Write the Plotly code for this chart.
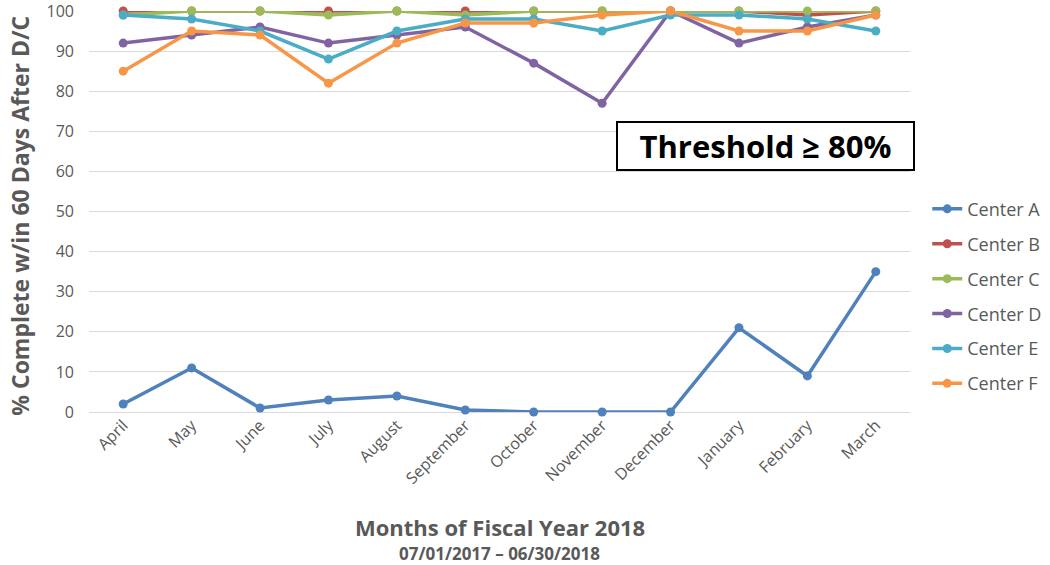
import plotly.graph_objects as go

months = ["April", "May", "June", "July", "August", "September", "October",
          "November", "December", "January", "February", "March"]

center_a = [2, 11, 1, 3, 4, 0.5, 0, 0, 0, 21, 9, 35]
center_b = [100, 100, 100, 100, 100, 100, 100, 100, 100, 100, 99, 100]
center_c = [99, 100, 100, 99, 100, 99, 100, 100, 100, 100, 100, 100]
center_d = [92, 94, 96, 92, 94, 96, 87, 77, 100, 92, 96, 99]
center_e = [99, 98, 95, 88, 95, 98, 98, 95, 99, 99, 98, 95]
center_f = [85, 95, 94, 82, 92, 97, 97, 99, 100, 95, 95, 99]

series = [
    ("Center A", center_a, "#4F81BD"),
    ("Center B", center_b, "#C0504D"),
    ("Center C", center_c, "#9BBB59"),
    ("Center D", center_d, "#8064A2"),
    ("Center E", center_e, "#4BACC6"),
    ("Center F", center_f, "#F79646"),
]

FONT = "Open Sans"
GRAY = "#595959"

fig = go.Figure()
for name, vals, color in series:
    fig.add_trace(go.Scatter(
        x=months, y=vals, name=name, mode="lines+markers",
        line=dict(color=color, width=3.5),
        marker=dict(color=color, size=9),
        legendgroup=name, cliponaxis=False,
    ))

fig.add_annotation(
    xref="paper", yref="y", x=0.824, y=66.3,
    xanchor="center", yanchor="middle",
    text="<b>Threshold ≥ 80%</b>", showarrow=False,
    font=dict(family=FONT, size=31, color="black"),
    bordercolor="black", borderwidth=2, bgcolor="white",
    width=293, height=44, align="center", valign="middle",
)

fig.add_annotation(
    xref="paper", yref="paper", x=0.5, y=-0.287, yanchor="middle",
    text="<b>Months of Fiscal Year 2018</b>", showarrow=False,
    font=dict(family=FONT, size=22, color=GRAY),
)
fig.add_annotation(
    xref="paper", yref="paper", x=0.5, y=-0.352, yanchor="middle",
    text="<b>07/01/2017 – 06/30/2018</b>", showarrow=False,
    font=dict(family=FONT, size=17, color=GRAY),
)
fig.add_annotation(
    xref="paper", yref="paper", x=-0.085, y=0.49, xanchor="center",
    yanchor="middle", textangle=-90,
    text="<b>% Complete w/in 60 Days After D/C</b>", showarrow=False,
    font=dict(family=FONT, size=23, color=GRAY),
)

fig.update_layout(
    width=1050, height=565,
    margin=dict(l=89, r=140, t=11, b=153, autoexpand=False),
    paper_bgcolor="white", plot_bgcolor="white",
    font=dict(family=FONT, color=GRAY),
    legend=dict(
        x=1.021, y=0.552, xanchor="left", yanchor="top",
        font=dict(family=FONT, size=18, color=GRAY),
        tracegroupgap=8.5, itemwidth=30,
        bgcolor="rgba(0,0,0,0)",
    ),
    xaxis=dict(
        type="category", range=[-0.5, 11.5], automargin=False,
        tickangle=-45, tickfont=dict(family=FONT, size=16, color=GRAY),
        showgrid=False, showline=False, zeroline=False, ticks="",
        ticklabeloverflow="allow",
    ),
    yaxis=dict(
        range=[0, 100], dtick=10, automargin=False,
        tickfont=dict(family=FONT, size=16, color=GRAY),
        showgrid=True, gridcolor="#D9D9D9", gridwidth=1,
        zeroline=True, zerolinecolor="#D9D9D9", zerolinewidth=1,
        showline=False, ticks="", ticklabelstandoff=14,
        ticklabeloverflow="allow",
    ),
)

fig.write_html(
    "out.html",
    config={"displayModeBar": False},
    post_script="document.body.style.margin='0px';document.body.style.overflow='hidden';",
)
